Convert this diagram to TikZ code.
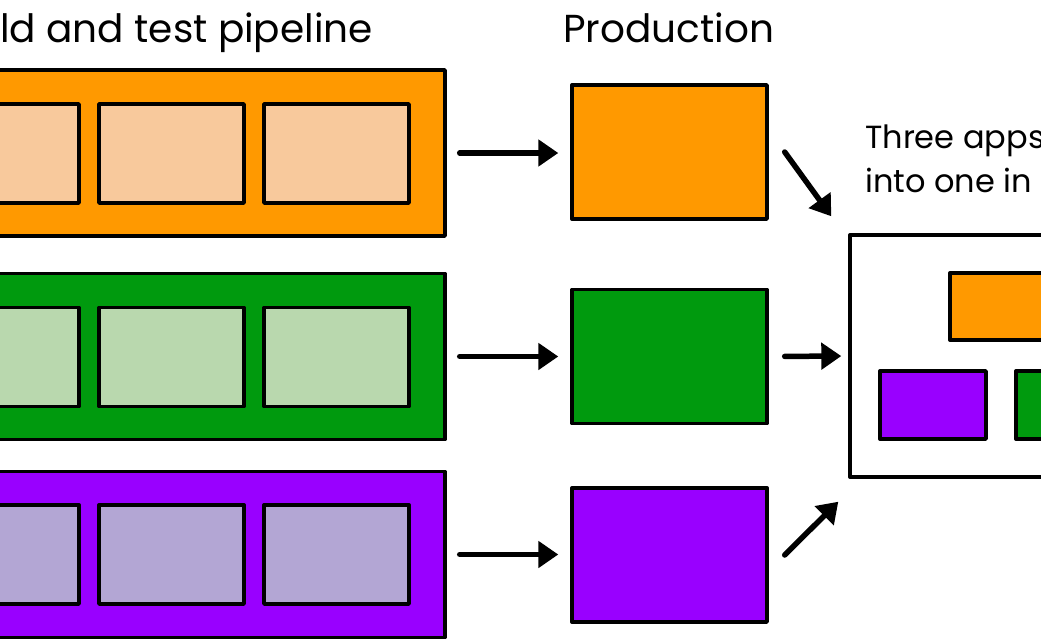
\documentclass[tikz,border=0pt]{standalone}
\usepackage{fontspec}
\setmainfont{Poppins}
\usetikzlibrary{arrows.meta}

\definecolor{orangeapp}{HTML}{FF9900}
\definecolor{orangehell}{HTML}{F8C99C}
\definecolor{gruenapp}{HTML}{009A0E}
\definecolor{gruenhell}{HTML}{B9D8AE}
\definecolor{lilaapp}{HTML}{9900FF}
\definecolor{lilahell}{HTML}{B3A6D4}

\begin{document}
\begin{tikzpicture}[x=1pt,y=-1pt,
	box/.style={draw=black,line width=3.4pt,line join=round,inner sep=0pt},
	rohr/.style={box,minimum width=547pt,minimum height=166pt},
	stufe/.style={box,minimum width=145pt,minimum height=99pt},
	prod/.style={box,minimum width=195pt,minimum height=134pt},
	pfeil/.style={-{Triangle[length=20pt,width=26pt]},line width=5.5pt,line cap=round}]
	\useasboundingbox (0,0) rectangle (1041,640);
	\clip (0,0) rectangle (1041,640);
	% Ueberschriften
	\node[anchor=base west,inner sep=0pt,font=\fontsize{39}{44}\selectfont] (titel) at (0,42) {ld and test pipeline};
	\node[anchor=base west,inner sep=0pt,font=\fontsize{39}{44}\selectfont] (prodtitel) at (563,42) {Production};
	% Pipelines
	\node[rohr,fill=orangeapp] (ro) at (171.5,153) {};
	\node[rohr,fill=gruenapp] (rg) at (171.5,356.5) {};
	\node[rohr,fill=lilaapp] (rl) at (171.5,554.5) {};
	\foreach \x/\n in {6.5/1,171.5/2,336.5/3} {
		\node[stufe,fill=orangehell] (so\n) at (\x,153.5) {};
		\node[stufe,fill=gruenhell] (sg\n) at (\x,357) {};
		\node[stufe,fill=lilahell] (sl\n) at (\x,554.5) {};
	}
	% Produktion
	\node[prod,fill=orangeapp] (po) at (669.5,152) {};
	\node[prod,fill=gruenapp] (pg) at (669.5,356.5) {};
	\node[prod,fill=lilaapp] (pl) at (669.5,555) {};
	% Zusammengefuehrt
	\node[box,fill=white,minimum width=300pt,minimum height=242pt] (kombi) at (1000,356) {};
	\node[box,fill=orangeapp,minimum width=130pt,minimum height=67pt] (ko) at (1015,306.5) {};
	\node[box,fill=lilaapp,minimum width=106pt,minimum height=68pt] (kl) at (933,405) {};
	\node[box,fill=gruenapp,minimum width=106pt,minimum height=68pt] (kg) at (1069,405) {};
	\node[anchor=base west,inner sep=0pt,font=\fontsize{32}{38}\selectfont] (text1) at (865,148) {Three apps};
	\node[anchor=base west,inner sep=0pt,font=\fontsize{32}{38}\selectfont] (text2) at (865,192) {into one in};
	% Pfeile
	\draw[pfeil,shorten <=13pt,shorten >=12pt] (ro.east) -- (po.west |- ro.east);
	\draw[pfeil,shorten <=13pt,shorten >=12pt] (rg.east) -- (pg.west |- rg.east);
	\draw[pfeil,shorten <=13pt,shorten >=12pt] (rl.east) -- (pl.west |- rl.east);
	\draw[pfeil] ([xshift=16pt]po.east) -- ([xshift=-17pt,yshift=17pt]kombi.north west);
	\draw[pfeil,shorten <=16pt,shorten >=7pt] (pg.east) -- (kombi.west);
	\draw[pfeil] ([xshift=16pt]pl.east) -- ([xshift=-10pt,yshift=-23pt]kombi.south west);
\end{tikzpicture}
\end{document}
